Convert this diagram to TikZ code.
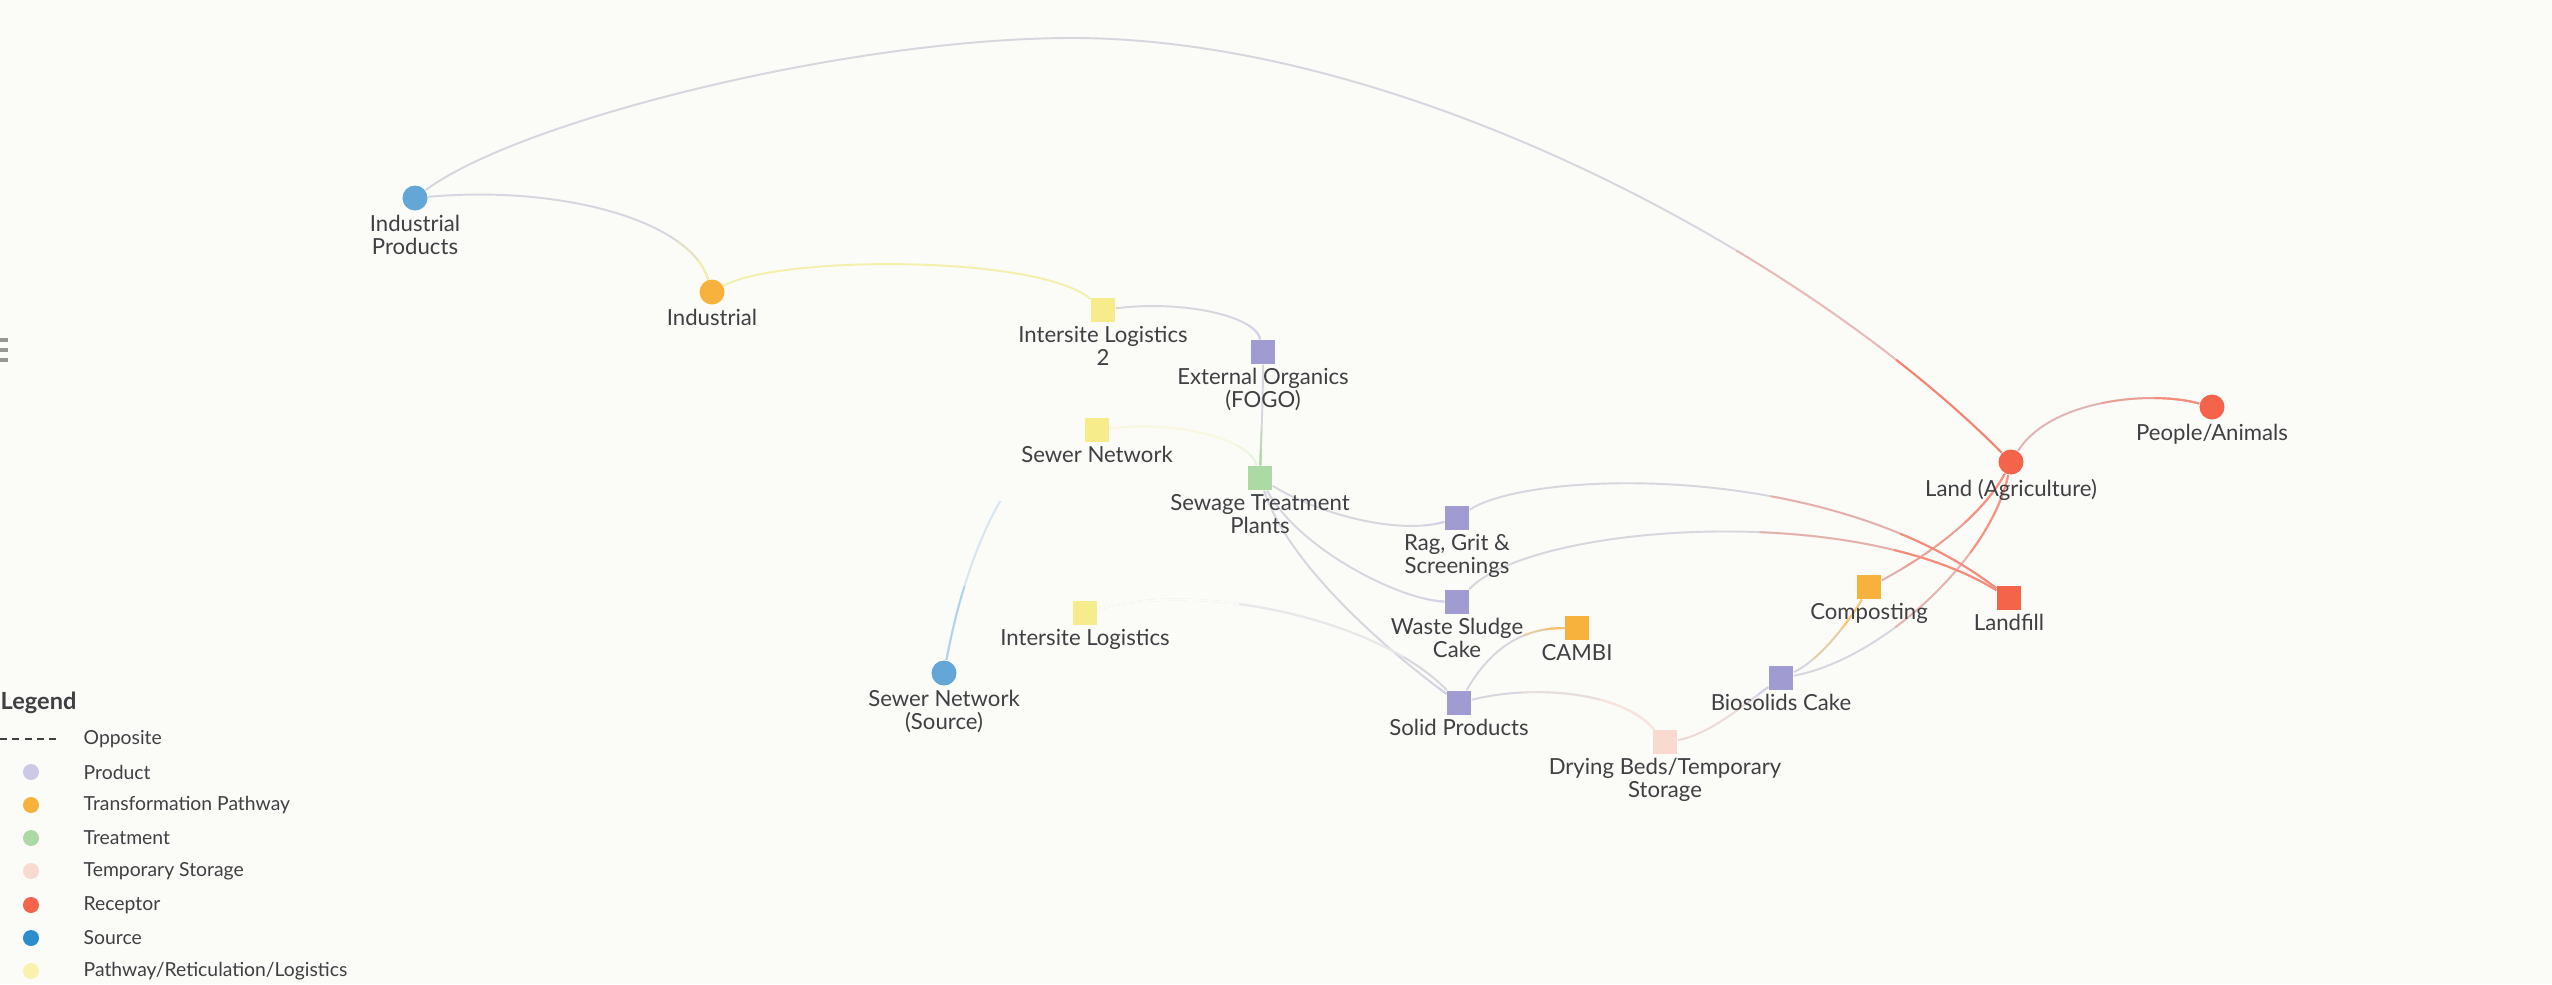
\documentclass[tikz,border=0pt]{standalone}
\usepackage{fontspec}
\setmainfont{Lato}
\usepackage{tikz}
\pgfdeclarelayer{back}
\pgfsetlayers{back,main}

\definecolor{bg_paper}{RGB}{251,251,248}
\definecolor{ink}{RGB}{64,64,68}
\definecolor{icon_grey}{RGB}{150,150,150}
\definecolor{prod_purple}{RGB}{160,156,210}
\definecolor{trans_orange}{RGB}{247,178,62}
\definecolor{treat_green}{RGB}{172,218,164}
\definecolor{store_pink}{RGB}{249,218,208}
\definecolor{recep_red}{RGB}{243,100,75}
\definecolor{src_blue}{RGB}{100,166,214}
\definecolor{leg_blue}{RGB}{44,140,204}
\definecolor{path_yellow}{RGB}{246,236,140}
\definecolor{edge_yellow}{RGB}{244,239,170}
\definecolor{link_grey}{RGB}{214,214,222}

\tikzset{
  squarenode/.style={rectangle, fill=#1, minimum size=0.24cm, inner sep=0pt},
  roundnode/.style={circle, fill=#1, minimum size=0.25cm, inner sep=0pt},
  lbl/.style={font=\fontsize{6.3}{6.5}\selectfont, text=ink, align=center, inner sep=0pt},
  legtext/.style={font=\fontsize{5.5}{6}\selectfont, text=ink, anchor=west, inner sep=0pt},
  legdot/.style={circle, fill=#1, minimum size=0.16cm, inner sep=0pt},
  flowline/.style={line width=0.55pt, draw=#1},
  flowtip/.style={line width=0.55pt, draw=#1},
}

\begin{document}
\begin{tikzpicture}[x=0.01cm, y=-0.01cm, label distance=0.03cm]
  \begin{pgfonlayer}{back}
    \fill[bg_paper] (0,0) rectangle (2552,984);
  \end{pgfonlayer}
  \useasboundingbox (0,0) rectangle (2552,984);
  % menu icon on the left edge
  \foreach \y in {340,350,360}
    \draw[icon_grey, line width=1.1pt] (0,\y) -- (8,\y);

  % sources
  \node[roundnode=src_blue, label={[lbl]below:Industrial\\Products}] (ip) at (415,198) {};
  \node[roundnode=src_blue, label={[lbl]below:Sewer Network\\(Source)}] (snsrc) at (944,673) {};
  % pathways and logistics
  \node[squarenode=path_yellow, label={[lbl]below:Intersite Logistics\\2}] (il2) at (1103,310) {};
  \node[squarenode=path_yellow, label={[lbl]below:Sewer Network}] (sn) at (1097,430) {};
  \node[squarenode=path_yellow, label={[lbl]below:Intersite Logistics}] (il) at (1085,613) {};
  % transformation
  \node[roundnode=trans_orange, label={[lbl]below:Industrial}] (ind) at (712,292) {};
  \node[squarenode=trans_orange, label={[lbl]below:CAMBI}] (cambi) at (1577,628) {};
  \node[squarenode=trans_orange, label={[lbl]below:Composting}] (comp) at (1869,587) {};
  % products
  \node[squarenode=prod_purple, label={[lbl]below:External Organics\\(FOGO)}] (eo) at (1263,352) {};
  \node[squarenode=prod_purple, label={[lbl]below:Rag, Grit \&\\Screenings}] (rag) at (1457,518) {};
  \node[squarenode=prod_purple, label={[lbl]below:Waste Sludge\\Cake}] (ws) at (1457,602) {};
  \node[squarenode=prod_purple, label={[lbl]below:Solid Products}] (solid) at (1459,703) {};
  \node[squarenode=prod_purple, label={[lbl]below:Biosolids Cake}] (bio) at (1781,678) {};
  % treatment and storage
  \node[squarenode=treat_green, label={[lbl]below:Sewage Treatment\\Plants}] (stp) at (1260,478) {};
  \node[squarenode=store_pink, label={[lbl]below:Drying Beds/Temporary\\Storage}] (dry) at (1665,742) {};
  % receptors
  \node[roundnode=recep_red, label={[lbl]below:Land (Agriculture)}] (land) at (2011,462) {};
  \node[roundnode=recep_red, label={[lbl]below:People/Animals}] (people) at (2212,407) {};
  \node[squarenode=recep_red, label={[lbl]below:Landfill}] (landfill) at (2009,598) {};

  \begin{pgfonlayer}{back}
    % long arc over the top
    \draw[flowline=link_grey] (ip) .. controls (520,120) and (850,38) .. (1072,38)
      .. controls (1400,38) and (1800,250) .. (land);
    \draw[flowtip=recep_red!60, opacity=0.5, dash pattern=on 95pt off 4000pt]
      (land) .. controls (1800,250) and (1400,38) .. (1072,38)
      .. controls (850,38) and (520,120) .. (ip);
    \draw[flowtip=recep_red!80, dash pattern=on 40pt off 4000pt]
      (land) .. controls (1800,250) and (1400,38) .. (1072,38)
      .. controls (850,38) and (520,120) .. (ip);
    % flows, tinted towards the target
    \foreach \a/\p/\q/\b/\base/\tip/\len in {
        ip/{560,185}/{690,220}/ind/link_grey/edge_yellow/14pt,
        ind/{780,255}/{1040,255}/il2/edge_yellow/edge_yellow/0pt,
        il2/{1180,300}/{1255,315}/eo/link_grey/prod_purple!45/6pt,
        eo/{1263,400}/{1261,440}/stp/link_grey/treat_green/10pt,
        sn/{1180,420}/{1250,440}/stp/edge_yellow!35!bg_paper/treat_green!30/8pt,
        sn/{1010,440}/{965,560}/snsrc/bg_paper/src_blue!50/48pt,
        stp/{1320,515}/{1400,535}/rag/link_grey/prod_purple!45/6pt,
        stp/{1300,550}/{1400,600}/ws/link_grey/prod_purple!45/6pt,
        stp/{1290,570}/{1400,660}/solid/link_grey/prod_purple!45/6pt,
        solid/{1380,620}/{1200,580}/il/link_grey/bg_paper/90pt,
        solid/{1490,650}/{1520,628}/cambi/link_grey/trans_orange!80/12pt,
        solid/{1530,685}/{1620,690}/dry/link_grey/store_pink!70!bg_paper/40pt,
        dry/{1710,735}/{1750,700}/bio/store_pink!70!link_grey/prod_purple!45/8pt,
        bio/{1820,660}/{1850,620}/comp/link_grey/trans_orange!70/22pt,
        bio/{1880,660}/{1990,560}/land/link_grey/recep_red!70/55pt,
        comp/{1920,560}/{1980,520}/land/recep_red!35!link_grey/recep_red!70/40pt,
        rag/{1530,470}/{1830,460}/landfill/link_grey/recep_red!75/70pt,
        ws/{1530,525}/{1850,500}/landfill/link_grey/recep_red!75/70pt,
        land/{2050,400}/{2150,390}/people/recep_red!30!link_grey/recep_red!75/28pt}{
      \draw[flowline=\base] (\a) .. controls (\p) and (\q) .. (\b);
      \pgfmathsetlengthmacro\half{0.45*\len}
      \draw[flowtip=\tip, opacity=0.5, dash pattern=on \len off 4000pt]
        (\b) .. controls (\q) and (\p) .. (\a);
      \draw[flowtip=\tip, dash pattern=on \half off 4000pt]
        (\b) .. controls (\q) and (\p) .. (\a);
    }
  \end{pgfonlayer}

  % legend
  \node[anchor=west, inner sep=0pt, text=ink, font=\fontsize{6.7}{7}\selectfont\bfseries] (legtitle) at (0,703) {Legend};
  \draw[ink, line width=0.5pt, dash pattern=on 2pt off 1.5pt] (0,739) -- (58,739);
  \node[legtext] (legopp) at (83,739) {Opposite};
  \foreach \y/\c/\t [count=\i] in {772/prod_purple!55/Product,
      805/trans_orange/Transformation Pathway, 838/treat_green/Treatment,
      871/store_pink/Temporary Storage, 905/recep_red/Receptor,
      938/leg_blue/Source, 971/path_yellow!70/{Pathway/Reticulation/Logistics}}{
    \node[legdot=\c] (legdot\i) at (31,\y) {};
    \node[legtext] (legitem\i) at (83,\y) {\t};
  }
\end{tikzpicture}
\end{document}
